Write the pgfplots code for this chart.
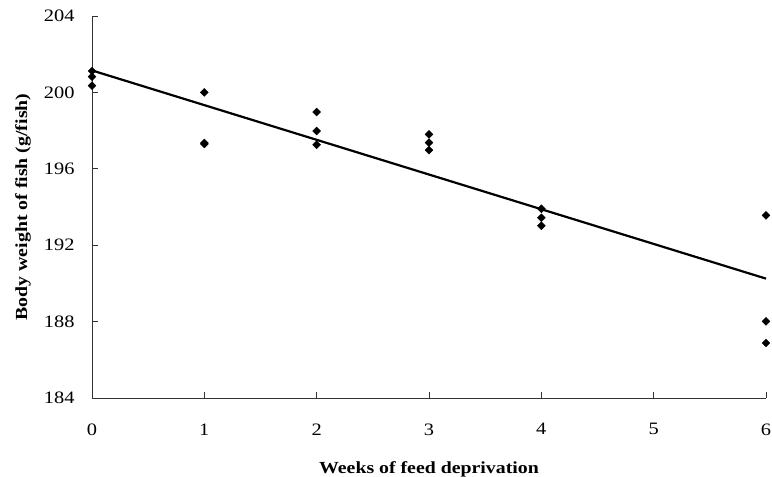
\documentclass[border=0pt]{standalone}
\usepackage{fontspec}
\setmainfont[FakeStretch=1.17]{Liberation Serif}
\usepackage{pgfplots}
\pgfplotsset{compat=1.18}
\begin{document}
\begin{tikzpicture}
\useasboundingbox (-92bp,-79bp) rectangle (680bp,398bp);
\begin{axis}[
  at={(0,0)}, anchor=origin,
  scale only axis, width=674bp, height=382bp,
  xmin=0, xmax=6, ymin=184, ymax=204,
  axis lines*=left,
  axis line style={line width=0.9bp, black!80},
  xtick={0,1,2,3,4,5,6}, ytick={184,188,192,196,200,204},
  tick align=inside, major tick length=6bp,
  tick style={line width=0.9bp, black!80},
  /pgf/number format/assume math mode=true,
  ticklabel style={font=\fontsize{17.5}{19}\selectfont},
  xticklabel shift=22bp,
  yticklabel shift=14bp,
  xlabel={\textbf{Weeks of feed deprivation}},
  ylabel={\textbf{Body weight of fish (g/fish)}},
  label style={font=\fontsize{17}{19}\selectfont},
  xlabel style={at={(axis description cs:0.5,0)}, anchor=center, yshift=-71bp},
  ylabel style={at={(axis description cs:0,0.5)}, anchor=center, yshift=69bp},
  clip=false,
]
\addplot[only marks, mark=square*, mark size=2.8bp, mark options={rotate=45, fill=black}, black]
coordinates {
(0,201.12) (0,200.82) (0,200.35)
(1,200.0) (1,197.3) (1,197.35)
(2,198.97) (2,197.98) (2,197.26)
(3,197.8) (3,197.37) (3,196.98)
(4,193.91) (4,193.44) (4,193.02)
(6,193.56) (6,188.01) (6,186.88)
};
\addplot[black, line width=2.2bp, no marks] coordinates {(0,201.15) (6,190.25)};
\end{axis}
\end{tikzpicture}
\end{document}
